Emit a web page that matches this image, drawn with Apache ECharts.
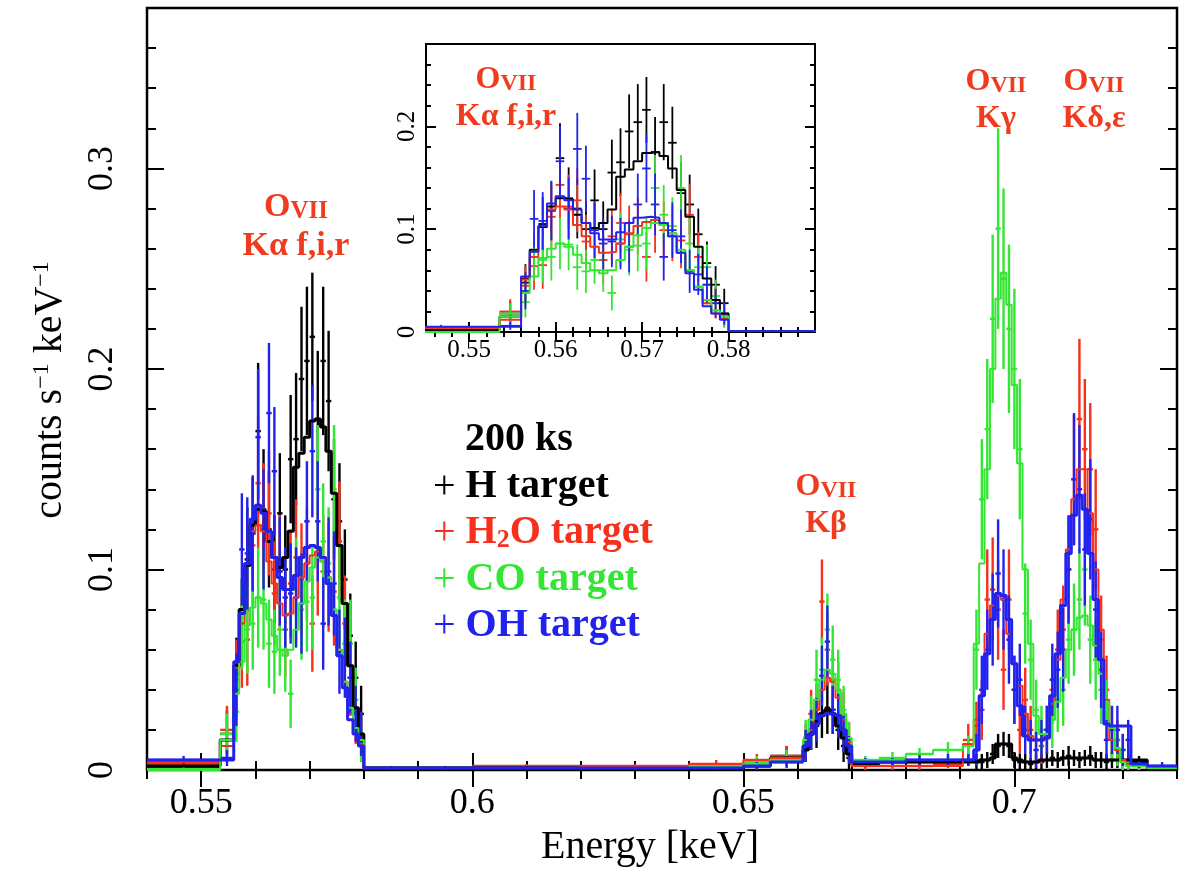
<!DOCTYPE html>
<html lang="en">
<head>
    <meta charset="UTF-8">
    <title>O VII spectra</title>
    <script src="https://cdn.jsdelivr.net/npm/echarts@6/dist/echarts.min.js"></script>
    <style>
        html, body { margin: 0; padding: 0; background: #fff; }
        #main { width: 1187px; height: 870px; }
    </style>
</head>
<body>
<div id="main"></div>
<script type="text/javascript">

// bin edges in keV, shared by all four targets (79 edges -> 78 bins)
var binEdges = [0.540, 0.5535,
    0.556, 0.557, 0.558, 0.559, 0.560, 0.561, 0.562, 0.563, 0.564, 0.565, 0.566, 0.567,
    0.568, 0.569, 0.570, 0.571, 0.572, 0.573, 0.574, 0.575, 0.576, 0.577, 0.578, 0.579,
    0.580, 0.590, 0.600, 0.620, 0.640, 0.650, 0.655,
    0.661, 0.662, 0.663, 0.664, 0.665, 0.666, 0.667, 0.668, 0.669,
    0.670, 0.675, 0.680, 0.685, 0.6905,
    0.6925, 0.6935, 0.6945, 0.6955, 0.6965, 0.6975, 0.6985, 0.6995, 0.7005, 0.7015,
    0.7025, 0.7035, 0.7045, 0.7055, 0.7065, 0.7075, 0.7085, 0.7095, 0.7105, 0.7115,
    0.7125, 0.7135, 0.7145, 0.7155, 0.7165, 0.7175, 0.7185, 0.7195, 0.7205,
    0.7215, 0.7245,
    0.730];

// model (step line) per target, counts s-1 keV-1
var modelH = [0.002, 0.015,
    0.052, 0.080, 0.102, 0.122, 0.130, 0.129, 0.114, 0.106, 0.101, 0.106, 0.119, 0.151,
    0.158, 0.166, 0.174, 0.175, 0.171, 0.159, 0.138, 0.112, 0.083, 0.052, 0.031, 0.018,
    0.001, 0.001, 0.001, 0.001, 0.001, 0.002, 0.006,
    0.010, 0.018, 0.024, 0.028, 0.030, 0.028, 0.022, 0.016, 0.008,
    0.003, 0.004, 0.004, 0.004, 0.004,
    0.004, 0.005, 0.005, 0.006, 0.013, 0.013, 0.013, 0.006, 0.005, 0.004,
    0.004, 0.004, 0.005, 0.005, 0.005, 0.005, 0.006, 0.006, 0.006, 0.006,
    0.006, 0.006, 0.005, 0.005, 0.005, 0.005, 0.005, 0.005, 0.005,
    0.005, 0.001];
var modelH2O = [0.004, 0.012,
    0.051, 0.073, 0.103, 0.119, 0.122, 0.119, 0.104, 0.093, 0.083, 0.077, 0.078, 0.086,
    0.096, 0.103, 0.107, 0.109, 0.104, 0.093, 0.077, 0.060, 0.044, 0.028, 0.018, 0.013,
    0.001, 0.001, 0.001, 0.002, 0.003, 0.005, 0.006,
    0.012, 0.020, 0.030, 0.040, 0.046, 0.044, 0.036, 0.025, 0.014,
    0.002, 0.002, 0.002, 0.002, 0.013,
    0.025, 0.037, 0.068, 0.082, 0.087, 0.085, 0.068, 0.053, 0.042, 0.028,
    0.017, 0.015, 0.015, 0.018, 0.033, 0.055, 0.085, 0.110, 0.135, 0.150,
    0.150, 0.128, 0.100, 0.070, 0.035, 0.015, 0.010, 0.005, 0.003,
    0.002, 0.001];
var modelCO = [0.000, 0.015,
    0.038, 0.054, 0.072, 0.081, 0.086, 0.083, 0.075, 0.067, 0.060, 0.057, 0.060, 0.070,
    0.083, 0.094, 0.101, 0.106, 0.104, 0.096, 0.080, 0.060, 0.044, 0.031, 0.021, 0.015,
    0.001, 0.001, 0.001, 0.001, 0.002, 0.003, 0.005,
    0.015, 0.025, 0.035, 0.045, 0.050, 0.048, 0.040, 0.028, 0.016,
    0.005, 0.005, 0.008, 0.010, 0.012,
    0.063, 0.103, 0.150, 0.200, 0.235, 0.248, 0.232, 0.192, 0.153, 0.100,
    0.063, 0.027, 0.018, 0.018, 0.025, 0.034, 0.046, 0.060, 0.070, 0.076,
    0.077, 0.072, 0.062, 0.048, 0.034, 0.021, 0.011, 0.004, 0.002,
    0.002, 0.001];
var modelOH = [0.005, 0.005,
    0.054, 0.078, 0.103, 0.125, 0.132, 0.128, 0.119, 0.106, 0.096, 0.090, 0.090, 0.097,
    0.106, 0.111, 0.112, 0.111, 0.106, 0.093, 0.077, 0.057, 0.041, 0.025, 0.018, 0.012,
    0.001, 0.001, 0.001, 0.001, 0.001, 0.002, 0.004,
    0.012, 0.018, 0.023, 0.027, 0.028, 0.028, 0.027, 0.020, 0.012,
    0.004, 0.004, 0.005, 0.005, 0.005,
    0.010, 0.037, 0.058, 0.075, 0.088, 0.087, 0.075, 0.053, 0.032, 0.017,
    0.015, 0.015, 0.015, 0.016, 0.037, 0.058, 0.082, 0.108, 0.127, 0.137,
    0.130, 0.108, 0.085, 0.055, 0.023, 0.022, 0.022, 0.022, 0.022,
    0.003, 0.002];

// measured points and 1-sigma errors per bin
var dataH = [0.001, 0.018,
    0.048, 0.073, 0.105, 0.118, 0.169, 0.130, 0.120, 0.100, 0.128, 0.100, 0.155, 0.165,
    0.195, 0.204, 0.216, 0.175, 0.204, 0.184, 0.135, 0.124, 0.095, 0.067, 0.046, 0.028,
    0.0005, 0.0005, 0.001, 0.001, 0.001, 0.002, 0.007,
    0.012, 0.020, 0.022, 0.028, 0.031, 0.030, 0.020, 0.012, 0.006,
    0.003, 0.004, 0.004, 0.004, 0.005,
    0.004, 0.004, 0.005, 0.008, 0.012, 0.013, 0.012, 0.005, 0.004, 0.004,
    0.003, 0.004, 0.004, 0.005, 0.006, 0.005, 0.006, 0.007, 0.006, 0.005,
    0.006, 0.007, 0.005, 0.005, 0.004, 0.005, 0.005, 0.005, 0.004,
    0.004, 0.001];
var errH = [0.001, 0.012,
    0.018, 0.022, 0.026, 0.028, 0.034, 0.030, 0.029, 0.027, 0.030, 0.027, 0.032, 0.033,
    0.036, 0.037, 0.032, 0.034, 0.037, 0.035, 0.030, 0.029, 0.025, 0.021, 0.018, 0.014,
    0.001, 0.001, 0.001, 0.001, 0.001, 0.002, 0.005,
    0.008, 0.010, 0.011, 0.012, 0.013, 0.012, 0.010, 0.008, 0.006,
    0.002, 0.002, 0.002, 0.002, 0.003,
    0.004, 0.004, 0.004, 0.005, 0.006, 0.006, 0.006, 0.004, 0.004, 0.004,
    0.003, 0.004, 0.004, 0.004, 0.004, 0.004, 0.004, 0.005, 0.004, 0.004,
    0.004, 0.005, 0.004, 0.004, 0.004, 0.004, 0.004, 0.004, 0.004,
    0.003, 0.001];
var dataH2O = [0.003, 0.020,
    0.045, 0.064, 0.065, 0.112, 0.143, 0.122, 0.128, 0.088, 0.099, 0.070, 0.093, 0.106,
    0.095, 0.103, 0.073, 0.106, 0.099, 0.096, 0.089, 0.114, 0.073, 0.046, 0.028, 0.017,
    0.001, 0.001, 0.002, 0.002, 0.003, 0.005, 0.007,
    0.015, 0.028, 0.030, 0.084, 0.060, 0.045, 0.040, 0.027, 0.015,
    0.002, 0.002, 0.002, 0.003, 0.015,
    0.022, 0.030, 0.085, 0.090, 0.080, 0.050, 0.085, 0.040, 0.020, 0.035,
    0.020, 0.015, 0.012, 0.020, 0.040, 0.060, 0.070, 0.100, 0.145, 0.175,
    0.160, 0.150, 0.120, 0.065, 0.040, 0.020, 0.015, 0.010, 0.005,
    0.002, 0.001];
var errH2O = [0.002, 0.012,
    0.020, 0.023, 0.023, 0.030, 0.033, 0.031, 0.031, 0.026, 0.028, 0.024, 0.027, 0.029,
    0.028, 0.028, 0.024, 0.029, 0.028, 0.027, 0.027, 0.030, 0.024, 0.019, 0.015, 0.012,
    0.001, 0.001, 0.001, 0.001, 0.002, 0.003, 0.005,
    0.008, 0.012, 0.013, 0.021, 0.018, 0.015, 0.014, 0.012, 0.009,
    0.002, 0.002, 0.002, 0.002, 0.008,
    0.012, 0.015, 0.025, 0.026, 0.025, 0.020, 0.025, 0.017, 0.012, 0.016,
    0.012, 0.010, 0.009, 0.012, 0.017, 0.020, 0.022, 0.027, 0.032, 0.040,
    0.035, 0.033, 0.030, 0.022, 0.017, 0.012, 0.010, 0.008, 0.006,
    0.002, 0.001];
var dataCO = [0.0005, 0.018,
    0.029, 0.073, 0.070, 0.073, 0.086, 0.085, 0.063, 0.059, 0.070, 0.060, 0.038, 0.090,
    0.080, 0.084, 0.086, 0.140, 0.114, 0.103, 0.140, 0.086, 0.063, 0.063, 0.035, 0.015,
    0.001, 0.001, 0.001, 0.001, 0.002, 0.004, 0.006,
    0.016, 0.025, 0.045, 0.050, 0.070, 0.055, 0.045, 0.030, 0.015,
    0.005, 0.006, 0.008, 0.010, 0.012,
    0.060, 0.135, 0.170, 0.225, 0.270, 0.245, 0.220, 0.200, 0.160, 0.078,
    0.055, 0.030, 0.020, 0.020, 0.025, 0.035, 0.040, 0.065, 0.070, 0.085,
    0.100, 0.065, 0.055, 0.040, 0.030, 0.015, 0.010, 0.005, 0.003,
    0.002, 0.001];
var errCO = [0.001, 0.010,
    0.015, 0.023, 0.022, 0.023, 0.025, 0.025, 0.022, 0.021, 0.023, 0.021, 0.017, 0.026,
    0.025, 0.025, 0.026, 0.032, 0.029, 0.028, 0.032, 0.025, 0.022, 0.022, 0.016, 0.011,
    0.001, 0.001, 0.001, 0.001, 0.001, 0.003, 0.004,
    0.009, 0.012, 0.015, 0.016, 0.018, 0.017, 0.015, 0.012, 0.009,
    0.002, 0.003, 0.003, 0.004, 0.005,
    0.020, 0.030, 0.035, 0.042, 0.050, 0.045, 0.042, 0.040, 0.035, 0.025,
    0.020, 0.015, 0.012, 0.012, 0.014, 0.016, 0.018, 0.022, 0.023, 0.025,
    0.028, 0.022, 0.020, 0.017, 0.015, 0.010, 0.008, 0.006, 0.004,
    0.002, 0.001];
var dataOH = [0.005, 0.006,
    0.040, 0.110, 0.108, 0.118, 0.166, 0.120, 0.178, 0.149, 0.099, 0.086, 0.088, 0.086,
    0.083, 0.124, 0.159, 0.124, 0.073, 0.099, 0.093, 0.059, 0.056, 0.046, 0.028, 0.018,
    0.001, 0.001, 0.001, 0.001, 0.001, 0.002, 0.004,
    0.012, 0.020, 0.025, 0.047, 0.064, 0.030, 0.027, 0.018, 0.010,
    0.004, 0.004, 0.005, 0.005, 0.005,
    0.010, 0.040, 0.060, 0.075, 0.098, 0.085, 0.065, 0.040, 0.045, 0.020,
    0.015, 0.010, 0.015, 0.020, 0.045, 0.050, 0.060, 0.100, 0.145, 0.140,
    0.110, 0.125, 0.080, 0.050, 0.015, 0.020, 0.020, 0.010, 0.015,
    0.003, 0.002];
var errOH = [0.002, 0.004,
    0.018, 0.028, 0.028, 0.029, 0.034, 0.030, 0.035, 0.032, 0.027, 0.025, 0.025, 0.025,
    0.025, 0.030, 0.033, 0.030, 0.023, 0.027, 0.026, 0.021, 0.020, 0.018, 0.014, 0.011,
    0.001, 0.001, 0.001, 0.001, 0.001, 0.002, 0.003,
    0.008, 0.010, 0.011, 0.015, 0.018, 0.012, 0.011, 0.009, 0.007,
    0.002, 0.002, 0.003, 0.003, 0.003,
    0.008, 0.017, 0.020, 0.023, 0.027, 0.025, 0.022, 0.017, 0.018, 0.012,
    0.010, 0.009, 0.010, 0.012, 0.018, 0.019, 0.021, 0.027, 0.033, 0.032,
    0.028, 0.030, 0.024, 0.019, 0.010, 0.012, 0.012, 0.008, 0.010,
    0.002, 0.002];

// axis ticks / labels
var xMajor = [0.55, 0.6, 0.65, 0.7];
var yMajor = [0, 0.1, 0.2, 0.3];
var insetXMajor = [0.55, 0.56, 0.57, 0.58];
var insetYMajor = [0, 0.1, 0.2];

var RED = '#f5301c', GREEN = '#33e633', BLUE = '#2222ee', BLACK = '#000000';
var LABEL_RED = '#f03c1e';
var SERIF = '"Liberation Serif", "DejaVu Serif", serif';

var targets = [
    {name: 'H', color: BLACK, model: modelH, data: dataH, err: errH, lw: 3},
    {name: 'H2O', color: RED, model: modelH2O, data: dataH2O, err: errH2O, lw: 2},
    {name: 'CO', color: GREEN, model: modelCO, data: dataCO, err: errCO, lw: 2},
    {name: 'OH', color: BLUE, model: modelOH, data: dataOH, err: errOH, lw: 3}
];

function stepPoints(values) {
    var pts = [];
    for (var i = 0; i < values.length; i++) pts.push([binEdges[i], values[i]]);
    pts.push([binEdges[values.length], values[values.length - 1]]);
    return pts;
}

function crossPoints(values, errs) {
    var pts = [];
    for (var i = 0; i < values.length; i++) {
        pts.push([binEdges[i], binEdges[i + 1], values[i], errs[i]]);
    }
    return pts;
}

function ticksBetween(a, b, step) {
    var out = [];
    var n = Math.round((b - a) / step);
    for (var i = 0; i <= n; i++) out.push(+(a + i * step).toFixed(4));
    return out;
}

function crossRenderer(color, width) {
    return function (params, api) {
        var x0 = api.value(0), x1 = api.value(1), y = api.value(2), e = api.value(3);
        var pl = api.coord([x0, y]), pr = api.coord([x1, y]);
        var xm = (x0 + x1) / 2;
        var pt = api.coord([xm, y + e]), pb = api.coord([xm, y - e]);
        var st = {stroke: color, lineWidth: width};
        return {
            type: 'group',
            children: [
                {type: 'line', shape: {x1: pl[0], y1: pl[1], x2: pr[0], y2: pr[1]}, style: st},
                {type: 'line', shape: {x1: pt[0], y1: pt[1], x2: pb[0], y2: pb[1]}, style: st}
            ]
        };
    };
}

function numFmt(v) {
    return String(+(+v).toFixed(3));
}

// 4 axes per dimension per grid: minor+major on both sides
function makeAxes(dim, gridIndex, min, max, minor, major, minorLen, majorLen, labelCfg) {
    var sides = dim === 'x' ? ['bottom', 'top'] : ['left', 'right'];
    var axes = [];
    sides.forEach(function (side, si) {
        [minor, major].forEach(function (vals, k) {
            var showLabel = si === 0 && k === 1;
            axes.push({
                type: 'value', gridIndex: gridIndex, position: side,
                min: min, max: max,
                axisLine: {show: false},
                splitLine: {show: false},
                axisTick: {
                    show: true, inside: true, customValues: vals,
                    length: k === 1 ? majorLen : minorLen,
                    lineStyle: {color: '#000', width: 2}
                },
                axisLabel: showLabel ? Object.assign({
                    show: true, customValues: major, formatter: numFmt,
                    color: '#000', fontFamily: SERIF
                }, labelCfg) : {show: false}
            });
        });
    });
    return axes;
}

var xAxes = [].concat(
    makeAxes('x', 0, 0.54, 0.73, ticksBetween(0.54, 0.73, 0.01), xMajor, 9, 17,
        {fontSize: 36, margin: 16}),
    makeAxes('x', 1, 0.545, 0.59, ticksBetween(0.546, 0.588, 0.002), insetXMajor, 5, 10,
        {fontSize: 25, margin: 6})
);
var yAxes = [].concat(
    makeAxes('y', 0, 0, 0.38, ticksBetween(0, 0.38, 0.02), yMajor, 9, 17,
        {fontSize: 36, margin: 26, rotate: 90}),
    makeAxes('y', 1, 0, 0.28, ticksBetween(0, 0.28, 0.02), insetYMajor, 5, 10,
        {fontSize: 25, margin: 6, rotate: 90})
);

var series = [];
[0, 1].forEach(function (g) {
    var xi = g * 4, yi = g * 4;
    targets.forEach(function (t) {
        series.push({
            name: t.name + '-model-' + g, type: 'line', step: 'end',
            xAxisIndex: xi, yAxisIndex: yi,
            data: stepPoints(t.model), showSymbol: false, clip: true,
            lineStyle: {color: t.color, width: g === 0 ? t.lw : 2},
            z: 4
        });
        series.push({
            name: t.name + '-data-' + g, type: 'custom',
            xAxisIndex: xi, yAxisIndex: yi, clip: true,
            renderItem: crossRenderer(t.color, g === 0 ? 2.4 : 1.8),
            encode: {x: [0, 1], y: 2},
            data: crossPoints(t.data, t.err),
            z: 4
        });
    });
});

function ionLabel(x, y, line2, size) {
    var small = Math.round(size * 0.74);
    return [{
        type: 'text', x: x, y: y, z: 10,
        style: {
            text: '{o|O}{s|VII}',
            align: 'center', verticalAlign: 'middle',
            rich: {
                o: {fontFamily: SERIF, fontWeight: 'bold', fontSize: size, fill: LABEL_RED, verticalAlign: 'bottom', lineHeight: size},
                s: {fontFamily: SERIF, fontWeight: 'bold', fontSize: small, fill: LABEL_RED, verticalAlign: 'bottom', lineHeight: size}
            }
        }
    }, {
        type: 'text', x: x, y: y + size * 1.15, z: 10,
        style: {
            text: line2, align: 'center', verticalAlign: 'middle',
            fontFamily: SERIF, fontWeight: 'bold', fontSize: size, fill: LABEL_RED
        }
    }];
}

function legendLine(y, parts, color) {
    var rich = {
        p: {fontFamily: SERIF, fontSize: 40, fill: color, verticalAlign: 'bottom', lineHeight: 40},
        b: {fontFamily: SERIF, fontWeight: 'bold', fontSize: 40, fill: color, verticalAlign: 'bottom', lineHeight: 40},
        sub: {fontFamily: SERIF, fontWeight: 'bold', fontSize: 26, fill: color, verticalAlign: 'bottom', lineHeight: 38}
    };
    return {
        type: 'text', x: 433, y: y, z: 10,
        style: {text: parts, align: 'left', verticalAlign: 'middle', rich: rich}
    };
}

var graphics = [].concat(
    ionLabel(296, 207, 'K\u03b1 f,i,r', 34),
    ionLabel(506, 80, 'K\u03b1 f,i,r', 32),
    ionLabel(826, 487, 'K\u03b2', 32),
    ionLabel(996, 82, 'K\u03b3', 32),
    ionLabel(1094, 82, 'K\u03b4,\u03b5', 32),
    [
        {
            type: 'text', x: 465, y: 440, z: 10,
            style: {text: '200 ks', align: 'left', verticalAlign: 'middle',
                fontFamily: SERIF, fontWeight: 'bold', fontSize: 40, fill: BLACK}
        },
        legendLine(487, '{p|+ }{b|H target}', BLACK),
        legendLine(533, '{p|+ }{b|H}{sub|2}{b|O target}', RED),
        legendLine(580, '{p|+ }{b|CO target}', GREEN),
        legendLine(626, '{p|+ }{b|OH target}', BLUE),
        {
            type: 'text', x: 650, y: 847, z: 10,
            style: {text: 'Energy [keV]', align: 'center', verticalAlign: 'middle',
                fontFamily: SERIF, fontSize: 40, fill: BLACK}
        },
        {
            type: 'text', x: 50, y: 390, rotation: Math.PI / 2, z: 10,
            style: {
                text: '{t|counts s}{s|\u22121}{t| keV}{s|\u22121}',
                align: 'center', verticalAlign: 'middle',
                rich: {
                    t: {fontFamily: SERIF, fontSize: 40, fill: BLACK, verticalAlign: 'bottom', lineHeight: 40},
                    s: {fontFamily: SERIF, fontSize: 24, fill: BLACK, verticalAlign: 'top', lineHeight: 40}
                }
            }
        }
    ]
);

var myChart = echarts.init(document.getElementById('main'), null, {renderer: 'canvas'});

var option = {
    animation: false,
    backgroundColor: '#ffffff',
    grid: [
        {left: 147, top: 8, width: 1030, height: 762, show: true,
            borderColor: '#000', borderWidth: 2.5, backgroundColor: 'transparent'},
        {left: 426, top: 44, width: 389, height: 288, show: true,
            borderColor: '#000', borderWidth: 2, backgroundColor: '#ffffff'}
    ],
    xAxis: xAxes,
    yAxis: yAxes,
    series: series,
    graphic: graphics
};

myChart.setOption(option);
</script>
</body>
</html>
